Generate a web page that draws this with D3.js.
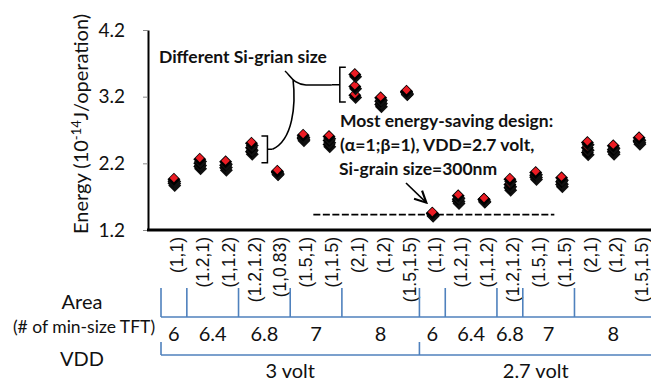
<!DOCTYPE html>
<meta charset="utf-8">
<head>
  <style>
    body { margin: 0; background: #fff; }
    svg { font-family: Lato, "Open Sans", sans-serif; }
    .ytick text { font-size: 19px; fill: #111; }
    .xtick text { font-size: 17.5px; fill: #111; }
    .note { font-size: 17.5px; font-weight: bold; fill: #111; }
    .tbl { stroke: #4f81bd; stroke-width: 1.6; fill: none; }
    .tbltext { font-size: 20px; fill: #111; text-anchor: middle; }
  </style>
  <script src="https://cdn.jsdelivr.net/npm/d3@7"></script>
</head>
<body>
  <svg width="651" height="381"></svg>
  <script>

    // (alpha, beta) design points, 3 volt block then 2.7 volt block
    var categories = ["(1,1)","(1.2,1)","(1,1.2)","(1.2,1.2)","(1,0.83)","(1.5,1)","(1,1.5)","(2,1)","(1,2)","(1.5,1.5)",
                      "(1,1)","(1.2,1)","(1,1.2)","(1.2,1.2)","(1.5,1)","(1,1.5)","(2,1)","(1,2)","(1.5,1.5)"]

    // energy for three Si-grain sizes (10^-14 J/operation)
    var grainA = [1.98,2.28,2.24,2.52,2.10,2.64,2.62,3.55,3.20,3.30, 1.47,1.73,1.68,1.98,2.08,2.00,2.53,2.48,2.60]
    var grainB = [1.95,2.22,2.19,2.45,2.09,2.61,2.56,3.37,3.15,3.29, 1.47,1.68,1.68,1.90,2.04,1.94,2.45,2.42,2.56]
    var grainC = [1.92,2.17,2.15,2.39,2.08,2.59,2.50,3.24,3.10,3.28, 1.46,1.65,1.67,1.85,2.01,1.90,2.38,2.39,2.54]

    var yTicks = [1.2, 2.2, 3.2, 4.2]

    var areaLabels = ["6","6.4","6.8","7","8","6","6.4","6.8","7","8"]
    var areaSpans  = [1,2,2,2,3,1,2,1,2,3]
    var vddLabels  = ["3 volt","2.7 volt"]
    var vddSpans   = [10, 9]

    var svg = d3.select("svg")

    var x = d3.scaleBand()
      .domain(d3.range(categories.length))
      .range([161, 652])
    var xc = function(i) { return x(i) + x.bandwidth() / 2 }

    var y = d3.scaleLinear()
      .domain([1.2, 4.2])
      .range([230, 30])

    function diamond(r) {
      return "M0," + (-r) + "L" + r + ",0L0," + r + "L" + (-r) + ",0Z"
    }

    // y axis
    var yAxis = svg.append("g")
      .attr("class", "ytick")
      .attr("transform", "translate(148,0)")
      .call(d3.axisLeft(y).tickValues(yTicks).tickFormat(d3.format(".1f")).tickSize(5).tickSizeOuter(0).tickPadding(18))
    yAxis.select(".domain").attr("stroke", "#000").attr("stroke-width", 2)
    yAxis.selectAll(".tick line").attr("stroke", "#888")
    yAxis.selectAll("text").style("font-family", "Lato")

    svg.append("text")
      .attr("transform", "translate(88,124) rotate(-90)")
      .attr("text-anchor", "middle")
      .style("font-size", "20px")
      .style("fill", "#111")
      .call(function(t) {
        t.append("tspan").text("Energy (10")
        t.append("tspan").attr("dy", -7).style("font-size", "13px").text("-14")
        t.append("tspan").attr("dy", 7).text("J/operation)")
      })

    // x axis
    var xAxis = svg.append("g")
      .attr("class", "xtick")
      .attr("transform", "translate(0,237)")
      .call(d3.axisBottom(x).tickSize(0).tickFormat(function(i) { return categories[i] }))
    xAxis.select(".domain").remove()
    xAxis.selectAll("text")
      .attr("transform", "rotate(-90)")
      .attr("x", 0)
      .attr("y", 3)
      .attr("dy", "0.35em")
      .style("text-anchor", "end")

    svg.append("line")
      .attr("x1", 147).attr("x2", 651)
      .attr("y1", 230).attr("y2", 230)
      .attr("stroke", "#000").attr("stroke-width", 3)

    // markers: lower grain values first so the top one sits on top
    var pts = []
    ;[grainC, grainB, grainA].forEach(function(s) {
      s.forEach(function(v, i) { pts.push({i: i, v: v}) })
    })
    pts.sort(function(a, b) { return a.v - b.v })

    var mk = svg.append("g").selectAll("g")
      .data(pts)
      .enter().append("g")
      .attr("transform", function(d) { return "translate(" + xc(d.i) + "," + y(d.v) + ")" })
    mk.append("path").attr("d", diamond(6.5)).attr("transform", "translate(0.8,3.5)").attr("fill", "#111")
    mk.append("path").attr("d", diamond(6.5)).attr("transform", "translate(0,1.2)").attr("fill", "#000")
    mk.append("path").attr("d", diamond(4.2)).attr("fill", "#ec1c24")

    // annotation: different grain size
    svg.append("text").attr("class", "note").attr("x", 159).attr("y", 63).text("Different Si-grian size")

    var bx = xc(7) - 15, bt = y(grainA[7]) - 6, bb = y(grainC[7]) + 8
    svg.append("path")
      .attr("d", "M" + (bx + 6) + "," + bt + "H" + bx + "V" + bb + "H" + (bx + 6) + "M" + bx + "," + ((bt + bb) / 2) + "H" + (bx - 8))
      .attr("stroke", "#000").attr("stroke-width", 1.5).attr("fill", "none")

    var cx3 = xc(3) + 16, ct = y(grainA[3]) - 6, cb = y(grainC[3]) + 12
    svg.append("path")
      .attr("d", "M" + (cx3 - 6) + "," + ct + "H" + cx3 + "V" + cb + "H" + (cx3 - 6) + "M" + cx3 + "," + ((ct + cb) / 2) + "H" + (cx3 + 5))
      .attr("stroke", "#000").attr("stroke-width", 1.5).attr("fill", "none")

    svg.append("path")
      .attr("d", "M285,71 C291,76 293,84 306,85 L" + (bx - 8) + ",85 M293,79 C296,105 293,140 " + (cx3 + 5) + "," + ((ct + cb) / 2))
      .attr("stroke", "#000").attr("stroke-width", 1.6).attr("fill", "none")

    // annotation: most energy-saving design
    var note = svg.append("text").attr("class", "note").attr("x", 340).attr("y", 127)
    note.append("tspan").attr("x", 340).text("Most energy-saving design:")
    note.append("tspan").attr("x", 340).attr("dy", 24).text("(\u03b1=1;\u03b2=1), VDD=2.7 volt,")
    note.append("tspan").attr("x", 339).attr("dy", 24).text("Si-grain size=300nm")

    svg.append("defs").append("marker")
      .attr("id", "arr").attr("viewBox", "0 0 10 10").attr("refX", 9).attr("refY", 5)
      .attr("markerWidth", 9).attr("markerHeight", 9).attr("orient", "auto")
      .append("path").attr("d", "M1,1L9,5L1,9").attr("fill", "none").attr("stroke", "#000").attr("stroke-width", 1.5)

    var bestY = y(grainC[10])
    svg.append("line")
      .attr("x1", 406).attr("y1", 183).attr("x2", xc(10) - 6).attr("y2", bestY - 10)
      .attr("stroke", "#000").attr("stroke-width", 1.6).attr("marker-end", "url(#arr)")

    svg.append("line")
      .attr("x1", xc(10) - 119).attr("x2", xc(10) + 122)
      .attr("y1", bestY + 2).attr("y2", bestY + 2)
      .attr("stroke", "#000").attr("stroke-width", 1.6).attr("stroke-dasharray", "7,2.5")

    // redraw best point over dashed line
    svg.append("path").attr("d", diamond(4.2)).attr("transform", "translate(" + xc(10) + "," + y(grainA[10]) + ")").attr("fill", "#ec1c24")

    // area / VDD table under the axis
    var bounds = [0]
    areaSpans.forEach(function(s) { bounds.push(bounds[bounds.length - 1] + s) })
    var tbl = svg.append("g")
    tbl.append("path").attr("class", "tbl").attr("d", "M" + x(0) + ",317H651")
    bounds.slice(0, -1).forEach(function(b) {
      tbl.append("path").attr("class", "tbl").attr("d", "M" + x(b) + ",288V317")
    })
    areaLabels.forEach(function(lab, k) {
      var mid = (x(bounds[k]) + (bounds[k + 1] < categories.length ? x(bounds[k + 1]) : x.range()[1])) / 2
      tbl.append("text").attr("class", "tbltext").attr("x", mid).attr("y", 334).attr("dy", "0.35em").text(lab)
    })

    var vb = [0]
    vddSpans.forEach(function(s) { vb.push(vb[vb.length - 1] + s) })
    tbl.append("path").attr("class", "tbl").attr("d", "M" + x(0) + ",355H651")
    vb.slice(0, -1).forEach(function(b) {
      tbl.append("path").attr("class", "tbl").attr("d", "M" + x(b) + ",342V355")
    })
    vddLabels.forEach(function(lab, k) {
      var mid = (x(vb[k]) + (vb[k + 1] < categories.length ? x(vb[k + 1]) : x.range()[1])) / 2
      tbl.append("text").attr("class", "tbltext").attr("x", mid).attr("y", 371).attr("dy", "0.35em").text(lab)
    })

    svg.append("text").attr("class", "tbltext").attr("x", 82).attr("y", 302).attr("dy", "0.35em").text("Area")
    svg.append("text").attr("class", "tbltext").style("font-size", "17.5px").attr("x", 84).attr("y", 327).attr("dy", "0.35em").text("(# of min-size TFT)")
    svg.append("text").attr("class", "tbltext").attr("x", 82).attr("y", 359).attr("dy", "0.35em").text("VDD")

  </script>
</body>
